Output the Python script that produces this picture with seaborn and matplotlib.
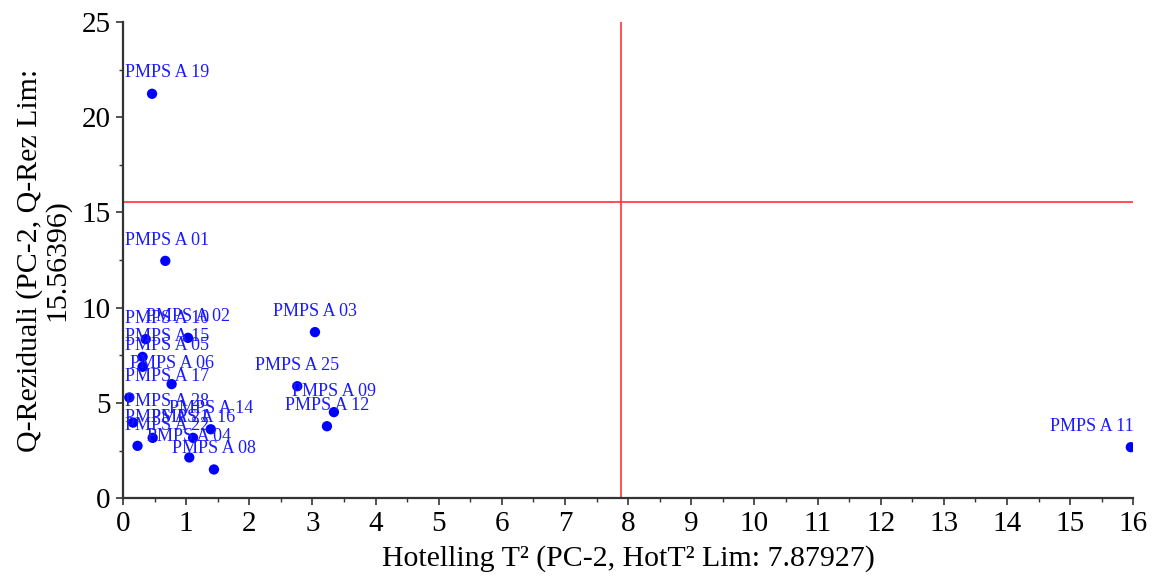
import numpy as np
import pandas as pd
import matplotlib
matplotlib.use("Agg")
import matplotlib.pyplot as plt
from matplotlib.ticker import MultipleLocator
import seaborn as sns

labels = ["PMPS A 19", "PMPS A 01", "PMPS A 10", "PMPS A 02", "PMPS A 15",
          "PMPS A 05", "PMPS A 06", "PMPS A 17", "PMPS A 28", "PMPS A 14",
          "PMPS A 16", "PMPS A 21", "PMPS A 22", "PMPS A 04", "PMPS A 08",
          "PMPS A 03", "PMPS A 25", "PMPS A 09", "PMPS A 12", "PMPS A 11"]
hot_t2 = [0.46, 0.67, 0.36, 1.03, 0.31, 0.31, 0.77, 0.10, 0.16, 1.39,
          1.11, 0.47, 0.23, 1.05, 1.44, 3.04, 2.76, 3.34, 3.23, 15.96]
q_res = [21.23, 12.46, 8.35, 8.42, 7.42, 6.90, 5.99, 5.29, 3.97, 3.62,
         3.17, 3.17, 2.75, 2.14, 1.51, 8.72, 5.88, 4.52, 3.78, 2.68]

hot_lim = 7.87927
q_lim = 15.56396

df = pd.DataFrame({"label": labels, "T2": hot_t2, "Q": q_res})

sns.set_style("white")
plt.rcParams['font.family'] = ['Liberation Serif', 'DejaVu Serif']
plt.rcParams['text.color'] = 'black'
plt.rcParams['axes.labelcolor'] = 'black'
plt.rcParams['xtick.labelcolor'] = 'black'
plt.rcParams['ytick.labelcolor'] = 'black'

fig = plt.figure(figsize=(11.56, 5.78), dpi=100)
ax = fig.add_axes([0.1064, 0.138, 0.8740, 0.824])

sns.scatterplot(data=df, x="T2", y="Q", color="#0000ff", s=55,
                edgecolor="none", ax=ax, zorder=3)
ax.axvline(hot_lim, color="#ff3333", lw=1.2, zorder=2)
ax.axhline(q_lim, color="#ff3333", lw=1.2, zorder=2)

texts = []
for _, r in df.iterrows():
    t = ax.annotate(r["label"], (r["T2"], r["Q"]), xytext=(0, 15),
                    textcoords="offset points", ha="center", va="center",
                    fontsize=13, color="#1a1aff", zorder=4)
    texts.append(t)

ax.set_xlim(0, 16)
ax.set_ylim(0, 25)
ax.xaxis.set_major_locator(MultipleLocator(1))
ax.xaxis.set_minor_locator(MultipleLocator(0.5))
ax.yaxis.set_major_locator(MultipleLocator(5))
ax.yaxis.set_minor_locator(MultipleLocator(2.5))
ax.tick_params(which="major", direction="out", length=5, width=1.2,
               color="#333333", labelsize=21, pad=4, labelcolor="black")
ax.tick_params(which="minor", direction="out", length=3, width=1.0,
               color="#333333")
ax.tick_params(axis="both", which="both", bottom=True, left=True)
for side in ["top", "right"]:
    ax.spines[side].set_visible(False)
for side in ["left", "bottom"]:
    ax.spines[side].set_color("#333333")
    ax.spines[side].set_linewidth(1.6)

ax.set_xlabel("Hotelling T² (PC-2, HotT² Lim: 7.87927)", fontsize=21.5,
              labelpad=6, color="black")
ax.set_ylabel("Q-Reziduali (PC-2, Q-Rez Lim:\n15.56396)", fontsize=21.5,
              labelpad=8, linespacing=1.0, color="black")

# keep point labels inside the plot area, like the original software does
fig.canvas.draw()
renderer = fig.canvas.get_renderer()
abox = ax.get_window_extent(renderer)
for t in texts:
    bb = t.get_window_extent(renderer)
    dx = 0
    if bb.x0 < abox.x0 + 2:
        dx = abox.x0 + 2 - bb.x0
    elif bb.x1 > abox.x1:
        dx = abox.x1 - bb.x1
    if dx:
        t.set_position((dx * 72 / fig.dpi, 15))

fig.savefig("out.png", dpi=100)
